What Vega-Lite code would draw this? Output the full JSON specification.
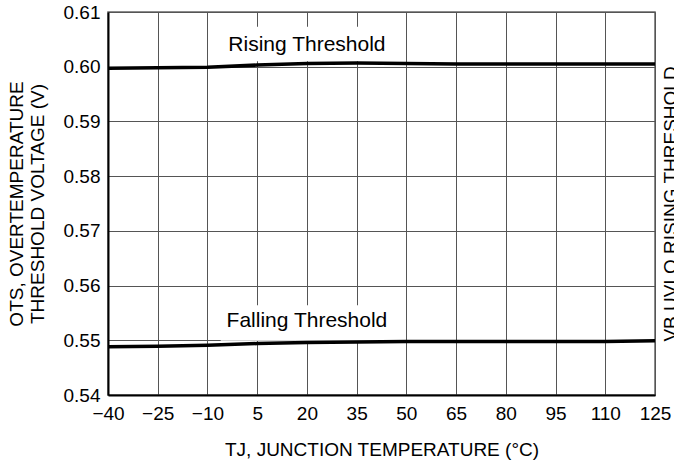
{
  "$schema": "https://vega.github.io/schema/vega-lite/v6.json",
  "width": 547,
  "height": 383,
  "autosize": {"type": "none"},
  "padding": {"left": 108, "top": 12, "right": 19, "bottom": 74},
  "config": {
    "font": "Liberation Sans",
    "view": {"stroke": "#666666", "strokeWidth": 1.5},
    "axis": {"labelColor": "black", "titleColor": "black", "titleFontWeight": "normal", "labelFont": "Liberation Sans", "titleFont": "Liberation Sans"}
  },
  "datasets": {
    "curves": [
      {"series": "Rising", "temp": -40, "v": 0.5997},
      {"series": "Rising", "temp": -25, "v": 0.5998},
      {"series": "Rising", "temp": -10, "v": 0.5999},
      {"series": "Rising", "temp": 5, "v": 0.6003},
      {"series": "Rising", "temp": 20, "v": 0.6006},
      {"series": "Rising", "temp": 35, "v": 0.6007},
      {"series": "Rising", "temp": 50, "v": 0.6006},
      {"series": "Rising", "temp": 65, "v": 0.6005},
      {"series": "Rising", "temp": 80, "v": 0.6005},
      {"series": "Rising", "temp": 95, "v": 0.6005},
      {"series": "Rising", "temp": 110, "v": 0.6005},
      {"series": "Rising", "temp": 125, "v": 0.6005},
      {"series": "Falling", "temp": -40, "v": 0.5488},
      {"series": "Falling", "temp": -25, "v": 0.5489},
      {"series": "Falling", "temp": -10, "v": 0.5491},
      {"series": "Falling", "temp": 5, "v": 0.5494},
      {"series": "Falling", "temp": 20, "v": 0.5496},
      {"series": "Falling", "temp": 35, "v": 0.5497},
      {"series": "Falling", "temp": 50, "v": 0.5498},
      {"series": "Falling", "temp": 65, "v": 0.5498},
      {"series": "Falling", "temp": 80, "v": 0.5498},
      {"series": "Falling", "temp": 95, "v": 0.5498},
      {"series": "Falling", "temp": 110, "v": 0.5498},
      {"series": "Falling", "temp": 125, "v": 0.5499}
    ],
    "labels": [
      {"label": "Rising Threshold", "temp": 20, "v": 0.6040, "t0": -6, "t1": 47, "v0": 0.6010, "v1": 0.6073},
      {"label": "Falling Threshold", "temp": 20, "v": 0.5535, "t0": -6, "t1": 47, "v0": 0.5499, "v1": 0.5564}
    ]
  },
  "layer": [
    {
      "data": {"name": "labels"},
      "mark": {"type": "rect", "fill": "white", "stroke": null},
      "encoding": {
        "x": {
          "field": "t0", "type": "quantitative",
          "scale": {"domain": [-40, 125], "nice": false, "zero": false},
          "axis": {
            "values": [-40, -25, -10, 5, 20, 35, 50, 65, 80, 95, 110, 125],
            "format": "d",
            "grid": true, "gridColor": "#555555", "gridWidth": 1, "gridOpacity": 1,
            "domain": true, "domainColor": "black", "domainWidth": 2,
            "ticks": false,
            "labelFontSize": 19, "labelPadding": 9, "labelFlush": false,
            "title": "TJ, JUNCTION TEMPERATURE (°C)",
            "titleFontSize": 19, "titlePadding": 17
          }
        },
        "x2": {"field": "t1"},
        "y": {"field": "v0", "type": "quantitative", "scale": {"domain": [0.54, 0.61], "nice": false, "zero": false}, "axis": null},
        "y2": {"field": "v1"}
      }
    },
    {
      "data": {"name": "curves"},
      "mark": {"type": "line", "color": "black", "strokeWidth": 3.5, "clip": true},
      "encoding": {
        "x": {
          "field": "temp", "type": "quantitative",
          "axis": {
            "values": [-40, -25, -10, 5, 20, 35, 50, 65, 80, 95, 110, 125],
            "format": "d",
            "grid": true, "gridColor": "#555555", "gridWidth": 1, "gridOpacity": 1,
            "domain": true, "domainColor": "black", "domainWidth": 2,
            "ticks": false,
            "labelFontSize": 19, "labelPadding": 9, "labelFlush": false,
            "title": "TJ, JUNCTION TEMPERATURE (°C)",
            "titleFontSize": 19, "titlePadding": 17
          }
        },
        "y": {
          "field": "v", "type": "quantitative",
          "axis": {
            "orient": "left",
            "values": [0.54, 0.55, 0.56, 0.57, 0.58, 0.59, 0.6, 0.61],
            "format": ".2f",
            "grid": true, "gridColor": "#555555", "gridWidth": 1, "gridOpacity": 1,
            "domain": true, "domainColor": "black", "domainWidth": 2,
            "ticks": false,
            "labelFontSize": 19, "labelPadding": 8, "labelFlush": false,
            "title": ["OTS, OVERTEMPERATURE", "THRESHOLD VOLTAGE (V)"],
            "titleFontSize": 19, "titleLineHeight": 21, "titlePadding": 16
          }
        },
        "detail": {"field": "series", "type": "nominal"}
      }
    },
    {
      "data": {"name": "labels"},
      "mark": {"type": "text", "fontSize": 21, "font": "Liberation Sans", "color": "black"},
      "encoding": {
        "x": {
          "field": "temp", "type": "quantitative",
          "axis": {
            "values": [-40, -25, -10, 5, 20, 35, 50, 65, 80, 95, 110, 125],
            "format": "d",
            "grid": true, "gridColor": "#555555", "gridWidth": 1, "gridOpacity": 1,
            "domain": true, "domainColor": "black", "domainWidth": 2,
            "ticks": false,
            "labelFontSize": 19, "labelPadding": 9, "labelFlush": false,
            "title": "TJ, JUNCTION TEMPERATURE (°C)",
            "titleFontSize": 19, "titlePadding": 17
          }
        },
        "y": {
          "field": "v", "type": "quantitative",
          "axis": {
            "orient": "right",
            "labels": false, "ticks": false, "domain": false, "grid": false,
            "title": "VB UVLO RISING THRESHOLD",
            "titleAngle": 270, "titleBaseline": "alphabetic",
            "titleFontSize": 19, "titlePadding": 21
          }
        },
        "text": {"field": "label"}
      }
    }
  ],
  "resolve": {"axis": {"y": "independent"}}
}
